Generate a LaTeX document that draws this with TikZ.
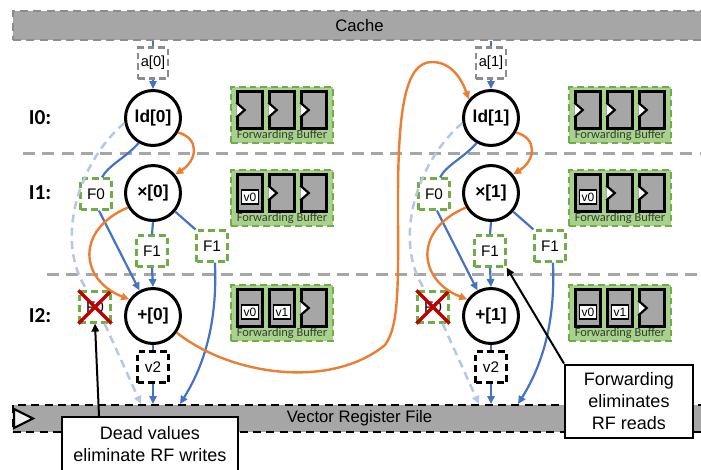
\documentclass[tikz,border=0pt]{standalone}
\usepackage{fontspec}
\setmainfont{Liberation Sans}
\newfontfamily\calfont{Carlito}
\usetikzlibrary{arrows.meta,calc}
\definecolor{cblue}{HTML}{4472C4}
\definecolor{corange}{HTML}{ED7D31}
\definecolor{clblue}{HTML}{B4C7E7}
\definecolor{cgreen}{HTML}{70AD47}
\definecolor{cgreenfill}{HTML}{A9D18E}
\definecolor{cgray}{HTML}{A6A6A6}
\definecolor{cdgray}{HTML}{8C8C8C}
\definecolor{cred}{HTML}{C00000}
\definecolor{ctext}{HTML}{33402A}
\def\pu{0.75pt}

\begin{document}
\begin{tikzpicture}[x=0.75pt,y=-0.75pt,
  tip/.style={-{Triangle[length=6pt,width=5.5pt]}},
  op/.style={circle,draw=black,line width=3*\pu,fill=white,minimum size=55*\pu,
    inner sep=0pt,font=\fontsize{13}{15}\selectfont\bfseries},
  valbox/.style={rectangle,fill=white,line width=2.2*\pu,dash pattern=on 5pt off 3pt,
    minimum width=31*\pu,minimum height=31*\pu,inner sep=0pt,
    font=\fontsize{11.5}{13}\selectfont},
  fwdval/.style={valbox,draw=cgreen},
  memval/.style={valbox,draw=cdgray,minimum width=30*\pu,font=\fontsize{11}{13}\selectfont},
  outval/.style={valbox,draw=black},
  bar/.style={rectangle,fill=cgray,minimum width=693*\pu,inner sep=0pt,
    font=\fontsize{12.5}{14}\selectfont},
  bufbox/.style={rectangle,draw=cgreen,fill=cgreenfill,line width=2.2*\pu,
    dash pattern=on 5pt off 3pt,minimum width=102*\pu,minimum height=56*\pu,inner sep=0pt},
  buftext/.style={inner sep=0pt,text=ctext,font=\calfont\fontsize{9.3}{10}\selectfont},
  cell/.style={rectangle,draw=black,fill=cgray,line width=2.5*\pu,
    minimum width=25*\pu,minimum height=37*\pu,inner sep=0pt},
  vlab/.style={rectangle,draw=black,fill=white,line width=1.5*\pu,minimum width=17*\pu,
    minimum height=14*\pu,inner sep=0pt,font=\fontsize{9}{10}\selectfont},
  stage/.style={font=\calfont\bfseries\fontsize{16}{18}\selectfont},
  sep/.style={draw=cgray,line width=3*\pu,dash pattern=on 9pt off 5.5pt},
  bline/.style={draw=cblue,line width=2.2*\pu},
  barrow/.style={bline,tip},
  oarrow/.style={draw=corange,line width=2.4*\pu,tip},
  ldash/.style={draw=clblue,line width=2.5*\pu,dash pattern=on 6pt off 4pt},
  ldarrow/.style={ldash,tip},
  callbox/.style={rectangle,draw=black,fill=white,line width=2*\pu,align=center,
    inner sep=0pt,font=\fontsize{13.5}{16.5}\selectfont},
  callarrow/.style={draw=black,line width=2*\pu,tip},
]
\useasboundingbox (0,0) rectangle (701,469);

% memory and register file bars
\node[bar,draw=cgray!85!black,line width=2.5*\pu,dash pattern=on 6pt off 4pt,
  minimum height=29*\pu] (cache) at (359.5,25.5) {Cache};
\node[bar,draw=black,line width=2.2*\pu,dash pattern=on 6pt off 4pt,
  minimum height=27*\pu] (vrf) at (359.5,418.5) {Vector Register File};
\draw[line width=2.2*\pu,fill=black!5,line join=miter]
  (14,409) -- (33,418.5) -- (14,428) -- cycle;

% stage separators
\draw[sep] (23,153) -- (701,153);
\draw[sep] (47,274) -- (701,274);

% stage labels
\node[stage] (s0) at (40,118) {I0:};
\node[stage] (s1) at (40,193) {I1:};
\node[stage] (s2) at (40,316) {I2:};

\foreach \i/\X in {0/153,1/491} {
  % operations
  \node[memval] (a\i) at (\X,63) {a[\i]};
  \node[op] (ld\i) at (\X,118) {ld[\i]};
  \node[op] (x\i) at (\X,193) {×[\i]};
  \node[op] (p\i) at (\X,316) {+[\i]};
  \node[fwdval] (F0\i) at (\X-57,194) {F0};
  \node[fwdval] (F1c\i) at (\X-1,251) {F1};
  \node[fwdval] (F1r\i) at (\X+59,246) {F1};
  \node[fwdval] (Fx\i) at (\X-58,307) {F0};
  \draw[cred,line width=3.5*\pu] (Fx\i.north west) -- (Fx\i.south east)
    (Fx\i.north east) -- (Fx\i.south west);
  \node[outval] (v\i) at (\X,367) {v2};
  \coordinate (wl\i) at (\X-12,404);
  \coordinate (wm\i) at (\X,404);
  \coordinate (wr\i) at (\X+27,404);

  % forwarding buffers, one per stage
  \foreach \r/\Y/\n in {0/115/0,1/198/1,2/313/2} {
    \node[bufbox] (fb\i\r) at (\X+129,\Y) {};
    \node[buftext] (fbt\i\r) at (\X+129,\Y+20) {Forwarding Buffer};
    \foreach \c/\dx in {1/-32,2/0,3/32} {
      \node[cell] (fc\i\r\c) at (\X+129+\dx,\Y-5) {};
      \ifnum\c>\n
        \draw[line width=2.2*\pu,fill=white,line join=miter]
          ($(fc\i\r\c.west)+(0,-7.5)$) -- ($(fc\i\r\c.west)+(8.5,0)$) -- ($(fc\i\r\c.west)+(0,7.5)$);
      \else
        \node[vlab] (fv\i\r\c) at ($(fc\i\r\c.center)+(0,4)$) {v\the\numexpr\c-1\relax};
      \fi
    }
  }

  % data flow
  \draw[bline] (a\i |- cache.south) -- (a\i.north);
  \draw[barrow] (a\i.south) -- (ld\i.north);
  \draw[oarrow] (ld\i.-30) .. controls +(22,6) and +(22,-14) .. (x\i.40);
  \draw[bline] (ld\i.-120) .. controls +(-12,14) and +(6,-12) .. (F0\i.70);
  \draw[barrow] (F0\i.-80) -- (p\i.118);
  \draw[ldash] (ld\i.190) .. controls (\X-73,160) and (\X-100,240) .. (Fx\i.115);
  \draw[ldarrow] (Fx\i.-60) -- (wl\i);
  \draw[bline] (x\i.south) -- (F1c\i.north);
  \draw[barrow] (F1c\i.south) -- (p\i.north);
  \draw[bline] (x\i.-40) -- (F1r\i.135);
  \draw[barrow] (F1r\i.-80) .. controls (\X+65,330) and (\X+47,372) .. (wr\i);
  \draw[oarrow] (x\i.-150) .. controls (\X-78,230) and (\X-73,280) .. (p\i.145);
  \draw[bline] (p\i.south) -- (v\i.north);
  \draw[barrow] (v\i.south) -- (wm\i);
}

% result of +[0] feeds ld[1]
\draw[oarrow] (p0.-35) .. controls (230,375) and (330,390) .. (385,345)
  .. controls (400,325) and (398,280) .. (398,200)
  .. controls (398,110) and (405,62) .. (432,62)
  .. controls (452,62) and (462,80) .. (ld1.140);

% callouts
\node[callbox,minimum width=176*\pu,minimum height=54*\pu] (dead) at (150,444)
  {Dead values\\eliminate RF writes};
\draw[callarrow] ($(dead.north west)+(38,0)$) -- (Fx0.south);
\node[callbox,minimum width=128*\pu,minimum height=73*\pu] (fwd) at (629,401)
  {Forwarding\\eliminates\\RF reads};
\draw[callarrow] (fwd.north west) -- (F1c1.south east);
\end{tikzpicture}
\end{document}
